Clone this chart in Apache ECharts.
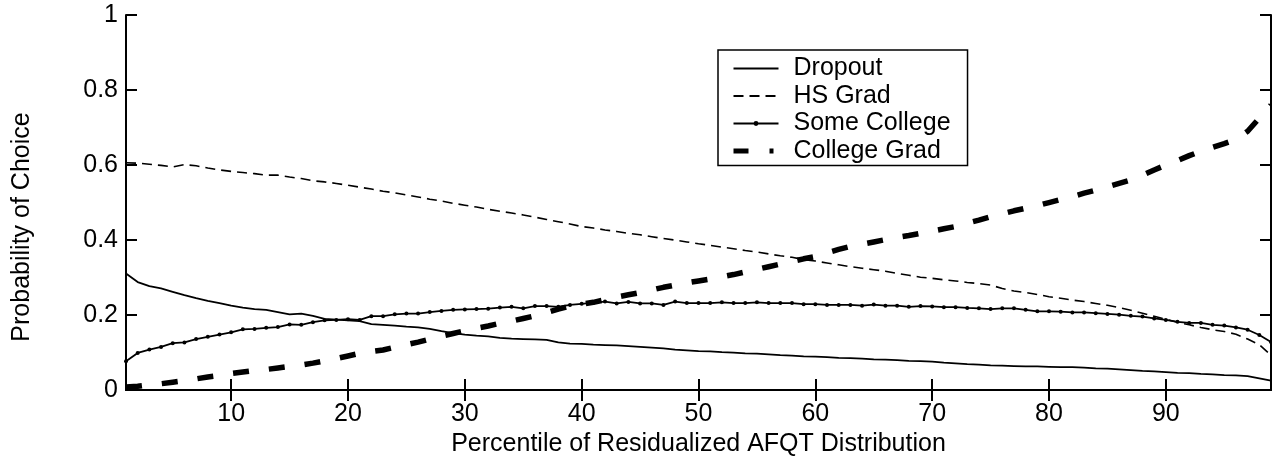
<!DOCTYPE html>
<html>
<head>
<meta charset="utf-8">
<script src="https://cdn.jsdelivr.net/npm/echarts@6/dist/echarts.min.js"></script>
<style>
html,body{margin:0;padding:0;background:#fff;}
#chart{width:1272px;height:462px;}
</style>
</head>
<body>
<div id="chart"></div>
<script>
var percentiles = [1,2,3,4,5,6,7,8,9,10,11,12,13,14,15,16,17,18,19,20,21,22,23,24,25,26,27,28,29,30,31,32,33,34,35,36,37,38,39,40,41,42,43,44,45,46,47,48,49,50,51,52,53,54,55,56,57,58,59,60,61,62,63,64,65,66,67,68,69,70,71,72,73,74,75,76,77,78,79,80,81,82,83,84,85,86,87,88,89,90,91,92,93,94,95,96,97,98,99];

var dropout = [0.311,0.288,0.277,0.271,0.262,0.253,0.245,0.238,0.232,0.225,
0.220,0.216,0.214,0.208,0.202,0.204,0.198,0.190,0.188,0.186,
0.184,0.176,0.174,0.172,0.169,0.167,0.163,0.157,0.152,0.148,
0.145,0.143,0.139,0.137,0.136,0.135,0.134,0.127,0.124,0.123,
0.121,0.120,0.119,0.117,0.115,0.113,0.111,0.108,0.106,0.104,
0.103,0.101,0.100,0.098,0.097,0.095,0.093,0.092,0.090,0.089,
0.088,0.086,0.085,0.084,0.082,0.081,0.080,0.078,0.077,0.076,
0.073,0.071,0.069,0.068,0.066,0.065,0.064,0.063,0.063,0.062,
0.061,0.061,0.060,0.058,0.057,0.055,0.053,0.051,0.050,0.048,
0.046,0.045,0.043,0.042,0.040,0.039,0.037,0.031,0.025];

var hsGrad = [0.606,0.605,0.602,0.599,0.595,0.601,0.598,0.592,0.587,0.583,
0.580,0.577,0.573,0.573,0.568,0.564,0.558,0.555,0.551,0.546,
0.541,0.536,0.530,0.526,0.520,0.515,0.509,0.504,0.498,0.493,
0.488,0.482,0.477,0.472,0.467,0.461,0.455,0.449,0.443,0.436,
0.432,0.427,0.423,0.418,0.414,0.409,0.404,0.400,0.395,0.390,
0.386,0.381,0.377,0.372,0.368,0.363,0.358,0.354,0.348,0.344,
0.339,0.334,0.329,0.325,0.321,0.317,0.311,0.306,0.301,0.298,
0.294,0.291,0.287,0.284,0.280,0.271,0.264,0.260,0.255,0.249,
0.245,0.240,0.236,0.231,0.226,0.220,0.213,0.205,0.197,0.189,
0.181,0.174,0.167,0.161,0.156,0.149,0.136,0.121,0.093];

var someCollege = [0.077,0.099,0.108,0.115,0.125,0.127,0.136,0.142,0.148,0.154,
0.162,0.163,0.166,0.168,0.175,0.174,0.181,0.186,0.187,0.189,
0.187,0.197,0.197,0.202,0.204,0.204,0.208,0.211,0.214,0.215,
0.216,0.217,0.220,0.222,0.218,0.224,0.224,0.222,0.227,0.230,
0.233,0.236,0.231,0.235,0.231,0.231,0.227,0.236,0.232,0.232,
0.232,0.234,0.232,0.232,0.234,0.232,0.232,0.232,0.229,0.229,
0.227,0.227,0.227,0.225,0.228,0.225,0.225,0.222,0.224,0.223,
0.221,0.221,0.219,0.218,0.216,0.218,0.218,0.214,0.210,0.210,
0.209,0.207,0.207,0.205,0.203,0.201,0.198,0.196,0.191,0.187,
0.182,0.179,0.179,0.174,0.172,0.167,0.161,0.147,0.128];

var collegeGrad = [0.008,0.010,0.014,0.017,0.021,0.025,0.030,0.035,0.039,0.044,
0.048,0.052,0.055,0.059,0.063,0.067,0.072,0.078,0.084,0.091,
0.098,0.103,0.107,0.114,0.121,0.128,0.136,0.144,0.151,0.158,
0.165,0.171,0.178,0.184,0.191,0.198,0.207,0.216,0.224,0.229,
0.234,0.241,0.248,0.254,0.260,0.267,0.274,0.280,0.286,0.291,
0.296,0.302,0.308,0.315,0.322,0.329,0.336,0.343,0.350,0.356,
0.366,0.375,0.383,0.389,0.395,0.401,0.407,0.412,0.418,0.424,
0.430,0.436,0.445,0.453,0.462,0.470,0.478,0.485,0.492,0.500,
0.508,0.516,0.525,0.533,0.542,0.551,0.560,0.573,0.587,0.600,
0.612,0.625,0.637,0.647,0.657,0.668,0.690,0.725,0.760];

var xTicks = [10,20,30,40,50,60,70,80,90];
var seriesNames = ['Dropout','HS Grad','Some College','College Grad'];
var xTitle = 'Percentile of Residualized AFQT Distribution';
var yTitle = 'Probability of Choice';

function pairs(vals){
  var out = [];
  for (var i = 0; i < percentiles.length; i++) out.push([percentiles[i], vals[i]]);
  return out;
}

var FONT = 'Liberation Sans, Arial, Helvetica, sans-serif';
var FS = 25;
var axisLineStyle = {color:'#000', width:2};
var hidden = {opacity:0};

var chart = echarts.init(document.getElementById('chart'), null, {renderer:'canvas'});
chart.setOption({
  animation:false,
  backgroundColor:'#fff',
  grid:{left:126, right:1, top:15, bottom:69, containLabel:false},
  graphic:[{
    type:'text', x:22, y:227, rotation:Math.PI/2,
    style:{text:yTitle, fill:'#000', font:FS + 'px ' + FONT, align:'center', verticalAlign:'middle'}
  }],
  legend:{
    orient:'vertical', left:718, top:50,
    data:[
      {name:seriesNames[0], itemStyle:hidden},
      {name:seriesNames[1], itemStyle:hidden},
      {name:seriesNames[2]},
      {name:seriesNames[3], itemStyle:hidden, lineStyle:{width:5, type:[15,21,4,100]}}
    ],
    itemWidth:45, itemHeight:6, itemGap:2.5,
    padding:[6,17,2,13],
    borderColor:'#000', borderWidth:1.5, backgroundColor:'#fff',
    textStyle:{fontSize:FS, lineHeight:25, color:'#000', fontFamily:FONT, padding:[0,0,0,10]},
    selectedMode:false
  },
  xAxis:[{
    type:'value', min:1, max:99, position:'bottom',
    axisLine:{show:true, lineStyle:axisLineStyle},
    axisTick:{show:true, inside:true, length:11, customValues:xTicks, lineStyle:axisLineStyle},
    axisLabel:{show:true, customValues:xTicks, fontSize:FS, color:'#000', fontFamily:FONT, margin:12},
    splitLine:{show:false},
    name:xTitle,
    nameLocation:'middle', nameGap:32,
    nameTextStyle:{fontSize:FS, color:'#000', fontFamily:FONT}
  },{
    type:'value', min:1, max:99, position:'top',
    axisLine:{show:true, lineStyle:axisLineStyle},
    axisTick:{show:true, inside:true, length:11, customValues:xTicks, lineStyle:axisLineStyle},
    axisLabel:{show:false},
    splitLine:{show:false}
  }],
  yAxis:[{
    type:'value', min:0, max:1, interval:0.2, position:'left',
    axisLine:{show:true, lineStyle:axisLineStyle},
    axisTick:{show:true, inside:true, length:11, lineStyle:axisLineStyle},
    axisLabel:{show:true, fontSize:FS, color:'#000', fontFamily:FONT, margin:8},
    splitLine:{show:false}
  },{
    type:'value', min:0, max:1, interval:0.2, position:'right',
    axisLine:{show:true, lineStyle:axisLineStyle},
    axisTick:{show:true, inside:true, length:11, lineStyle:axisLineStyle},
    axisLabel:{show:false},
    splitLine:{show:false}
  }],
  series:[{
    name:'Dropout', type:'line', xAxisIndex:0, yAxisIndex:0,
    data:pairs(dropout), symbol:'none',
    lineStyle:{color:'#000', width:1.8, type:'solid'},
    itemStyle:{color:'#000'}
  },{
    name:'HS Grad', type:'line', xAxisIndex:0, yAxisIndex:0,
    data:pairs(hsGrad), symbol:'none',
    lineStyle:{color:'#000', width:1.6, type:[10,6]},
    itemStyle:{color:'#000'}
  },{
    name:'Some College', type:'line', xAxisIndex:0, yAxisIndex:0,
    data:pairs(someCollege), symbol:'circle', symbolSize:4, showSymbol:true,
    lineStyle:{color:'#000', width:1.8, type:'solid'},
    itemStyle:{color:'#000'}
  },{
    name:'College Grad', type:'line', xAxisIndex:0, yAxisIndex:0,
    data:pairs(collegeGrad), symbol:'none',
    lineStyle:{color:'#000', width:5.5, type:[16,20]},
    itemStyle:{color:'#000'}
  }]
});
</script>
</body>
</html>
